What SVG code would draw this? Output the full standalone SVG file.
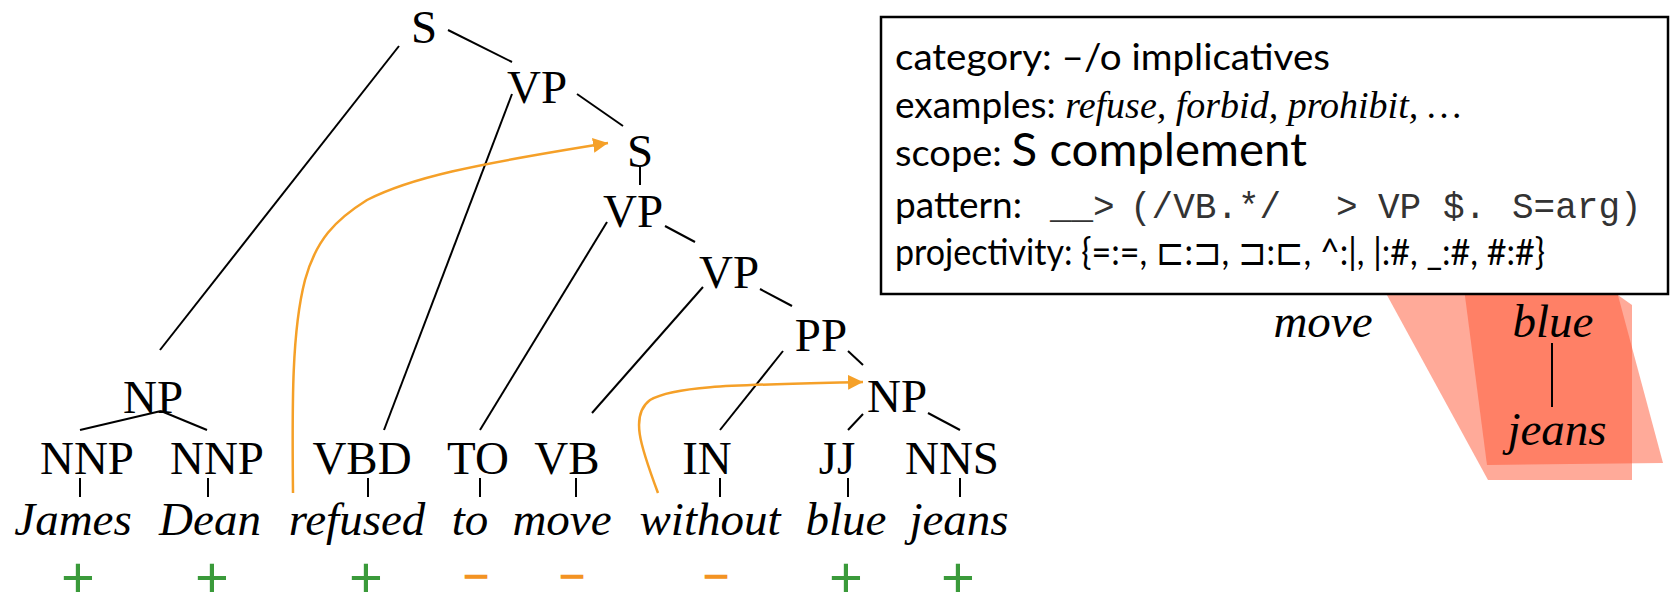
<svg xmlns="http://www.w3.org/2000/svg" width="1671" height="592" viewBox="0 0 1671 592">
<style>
.t{font-family:"Liberation Serif",serif;font-size:47px;text-anchor:middle;fill:#000}
.w{font-style:italic}
.e{stroke:#000;stroke-width:2;fill:none}
.arr{fill:none;stroke:#F5A028;stroke-width:2.5;marker-end:url(#ah)}
.plus{font-family:"Liberation Sans",sans-serif;font-size:58px;text-anchor:middle;fill:#3A9A3A}
.minus{font-family:"Liberation Sans",sans-serif;font-size:38px;text-anchor:middle;fill:#F39322;stroke:#F39322;stroke-width:1.5}
.bx{font-family:"Lato",sans-serif;font-size:37px;fill:#000}
.ex{font-family:"Liberation Serif",serif;font-style:italic;font-size:38px}
.mono{font-family:"Liberation Mono",monospace;font-size:36px;fill:#333}
.shape{fill:#FF5533;fill-opacity:0.5}
</style>
<defs>
<marker id="ah" markerWidth="15" markerHeight="15" refX="15" refY="7.5" orient="auto" markerUnits="userSpaceOnUse"><path d="M0,0 L15,7.5 L0,15 z" fill="#F5A028"/></marker>
</defs>

<g id="alignment">
<polygon class="shape" points="1241,28 1632,305 1632,480 1488,480"/>
<polygon class="shape" points="1446,150 1579,150 1663,463 1487,465"/>
</g>

<g id="info">
<rect x="881" y="17" width="787" height="277" fill="#fff" stroke="#000" stroke-width="2.5"/>
<text class="bx" x="895" y="70" textLength="435" lengthAdjust="spacingAndGlyphs">category: –/o implicatives</text>
<text class="bx" x="895" y="118">examples: <tspan class="ex">refuse, forbid, prohibit, …</tspan></text>
<text class="bx" x="895" y="166" textLength="412" lengthAdjust="spacingAndGlyphs">scope: <tspan font-size="46">S complement</tspan></text>
<text class="bx" x="895" y="218">pattern:</text>
<text class="mono" y="218"><tspan x="1050">__</tspan><tspan x="1093">&gt;</tspan><tspan x="1130">(/VB.*/</tspan><tspan x="1336">&gt;</tspan><tspan x="1378">VP</tspan><tspan x="1443">$.</tspan><tspan x="1512">S=arg)</tspan></text>
<text class="bx" x="895" y="265" textLength="650" lengthAdjust="spacingAndGlyphs">projectivity: {=:=, ⊏:⊐, ⊐:⊏, ^:|, |:#, _:#, #:#}</text>
</g>

<g id="alignment-words">
<text class="t w" x="1323" y="337" font-size="54">move</text>
<text class="t w" x="1553" y="337" font-size="54">blue</text>
<line class="e" x1="1552" y1="343" x2="1552" y2="407"/>
<text class="t w" x="1557" y="445" font-size="54">jeans</text>
</g>

<g id="connectors">
<line class="e" x1="399" y1="46" x2="160" y2="350"/>
<line class="e" x1="448" y1="30" x2="512" y2="62"/>
<line class="e" x1="512" y1="94" x2="384" y2="430"/>
<line class="e" x1="577" y1="94" x2="623" y2="126"/>
<line class="e" x1="640" y1="167" x2="640" y2="185"/>
<line class="e" x1="607" y1="222" x2="480" y2="430"/>
<line class="e" x1="665" y1="226" x2="695" y2="242"/>
<line class="e" x1="703" y1="287" x2="592" y2="413"/>
<line class="e" x1="760" y1="289" x2="792" y2="306"/>
<line class="e" x1="783" y1="351" x2="720" y2="430"/>
<line class="e" x1="848" y1="351" x2="863" y2="365"/>
<line class="e" x1="863" y1="414" x2="848" y2="430"/>
<line class="e" x1="928" y1="413" x2="960" y2="430"/>
<line class="e" x1="161" y1="411" x2="80" y2="430"/>
<line class="e" x1="161" y1="411" x2="207" y2="430"/>
<line class="e" x1="80" y1="478" x2="80" y2="497"/>
<line class="e" x1="208" y1="478" x2="208" y2="497"/>
<line class="e" x1="368" y1="478" x2="368" y2="497"/>
<line class="e" x1="480" y1="478" x2="480" y2="497"/>
<line class="e" x1="576" y1="478" x2="576" y2="497"/>
<line class="e" x1="720" y1="478" x2="720" y2="497"/>
<line class="e" x1="848" y1="478" x2="848" y2="497"/>
<line class="e" x1="960" y1="478" x2="960" y2="497"/>
<path class="arr" d="M293,493 C292,400 292,330 305,280 C316,240 335,220 367,200 C410,178 470,165 608,143"/>
<path class="arr" stroke-width="2" d="M658,493 C640,445 630,415 650,400 C675,385 740,385 863,382"/>
</g>

<g id="n-S"><text class="t" x="424" y="43">S</text></g>
<g id="n-VP1"><text class="t" x="537" y="103">VP</text></g>
<g id="n-S2"><text class="t" x="640" y="167">S</text></g>
<g id="n-VP2"><text class="t" x="633" y="227">VP</text></g>
<g id="n-VP3"><text class="t" x="729" y="288">VP</text></g>
<g id="n-PP"><text class="t" x="821" y="351">PP</text></g>
<g id="n-NP2"><text class="t" x="897" y="412">NP</text></g>
<g id="n-NP1"><text class="t" x="153" y="413">NP</text></g>

<g id="n-NNP1"><text class="t" x="87" y="474">NNP</text><text class="t w" x="73" y="535">James</text><text class="plus" x="78" y="597">+</text></g>
<g id="n-NNP2"><text class="t" x="217" y="474">NNP</text><text class="t w" x="210" y="535">Dean</text><text class="plus" x="212" y="597">+</text></g>
<g id="n-VBD"><text class="t" x="362" y="474">VBD</text><text class="t w" x="357" y="535">refused</text><text class="plus" x="366" y="597">+</text></g>
<g id="n-TO"><text class="t" x="478" y="474">TO</text><text class="t w" x="470" y="535">to</text><text class="minus" x="476" y="587">–</text></g>
<g id="n-VB"><text class="t" x="567" y="474">VB</text><text class="t w" x="562" y="535">move</text><text class="minus" x="572" y="587">–</text></g>
<g id="n-IN"><text class="t" x="707" y="474">IN</text><text class="t w" x="710" y="535">without</text><text class="minus" x="716" y="587">–</text></g>
<g id="n-JJ"><text class="t" x="837" y="474">JJ</text><text class="t w" x="846" y="535">blue</text><text class="plus" x="846" y="597">+</text></g>
<g id="n-NNS"><text class="t" x="952" y="474">NNS</text><text class="t w" x="959" y="535">jeans</text><text class="plus" x="958" y="597">+</text></g>
</svg>
